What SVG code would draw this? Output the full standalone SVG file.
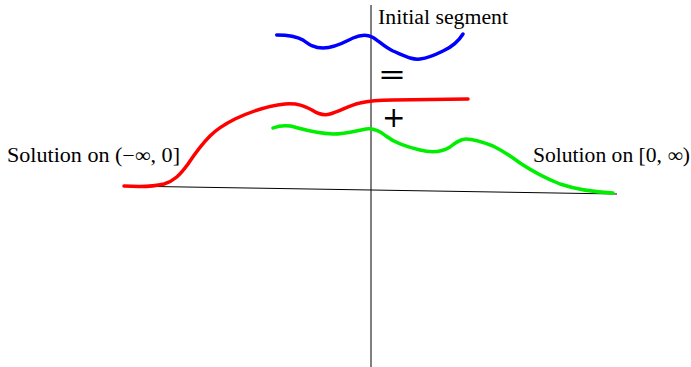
<svg xmlns="http://www.w3.org/2000/svg" width="691" height="367" viewBox="0 0 691 367">
<style>
.ax{stroke:#000;stroke-width:1;fill:none}
.c{fill:none;stroke-width:3.5;stroke-linecap:round;stroke-linejoin:round}
.t{font-family:"Liberation Serif","DejaVu Serif",serif;font-size:20px;fill:#000}
.op{font-family:"DejaVu Sans","Liberation Sans",sans-serif;font-size:28px;fill:#000}
</style>
<rect width="691" height="367" fill="#fff"/>
<g id="connectors">
<line class="ax" x1="124" y1="186" x2="617" y2="194"/>
<line class="ax" x1="371" y1="5" x2="371" y2="367"/>
</g>
<g id="initial">
<path class="c" stroke="#0000ff" d="M276.7,35 C288,35 296,36 303,40 C310,45 314,48 323,48 C335,48 345,42 353,38 C360,35 366,34 372,37 C378,40 384,47 393,51 C405,56 412,60 420,59 C428,58 435,55 443,51 C452,47 458,42 463,34"/>
</g>
<g id="sum">
<path class="c" stroke="#ff0000" d="M124,186 C140,187 152,187 164,184 C174,181 180,175 188,164 C196,152 202,144 210,136 C218,128 225,124 235,119 C250,112 265,106 285,104 C298,103 304,106 312,110 C318,114 323,116 330,114 C340,111 350,105 360,103 C368,101 378,100 393,100 L468,99"/>
</g>
<g id="right">
<path class="c" stroke="#00ee00" d="M273,128 C278,126 283,125 290,126 C300,128 312,133 333,134 C345,134 355,131 366,129 C374,128 380,131 386,136 C395,143 405,146 420,150 C432,153 442,152 450,147 C455,143 460,139 466,139 C472,139 480,141 493,146 C505,152 512,157 520,163 C532,171 545,178 560,184 C575,189 590,192 613,193"/>
</g>
<g id="ops">
<text class="op" x="378" y="84" textLength="28" lengthAdjust="spacingAndGlyphs">=</text>
<text class="op" x="382" y="127">+</text>
</g>
<g id="labels">
<text class="t" x="378" y="24" textLength="130" lengthAdjust="spacingAndGlyphs">Initial segment</text>
<text class="t" x="7" y="162" textLength="173" lengthAdjust="spacingAndGlyphs">Solution on (−∞, 0]</text>
<text class="t" x="533" y="162" textLength="157" lengthAdjust="spacingAndGlyphs">Solution on [0, ∞)</text>
</g>
</svg>
